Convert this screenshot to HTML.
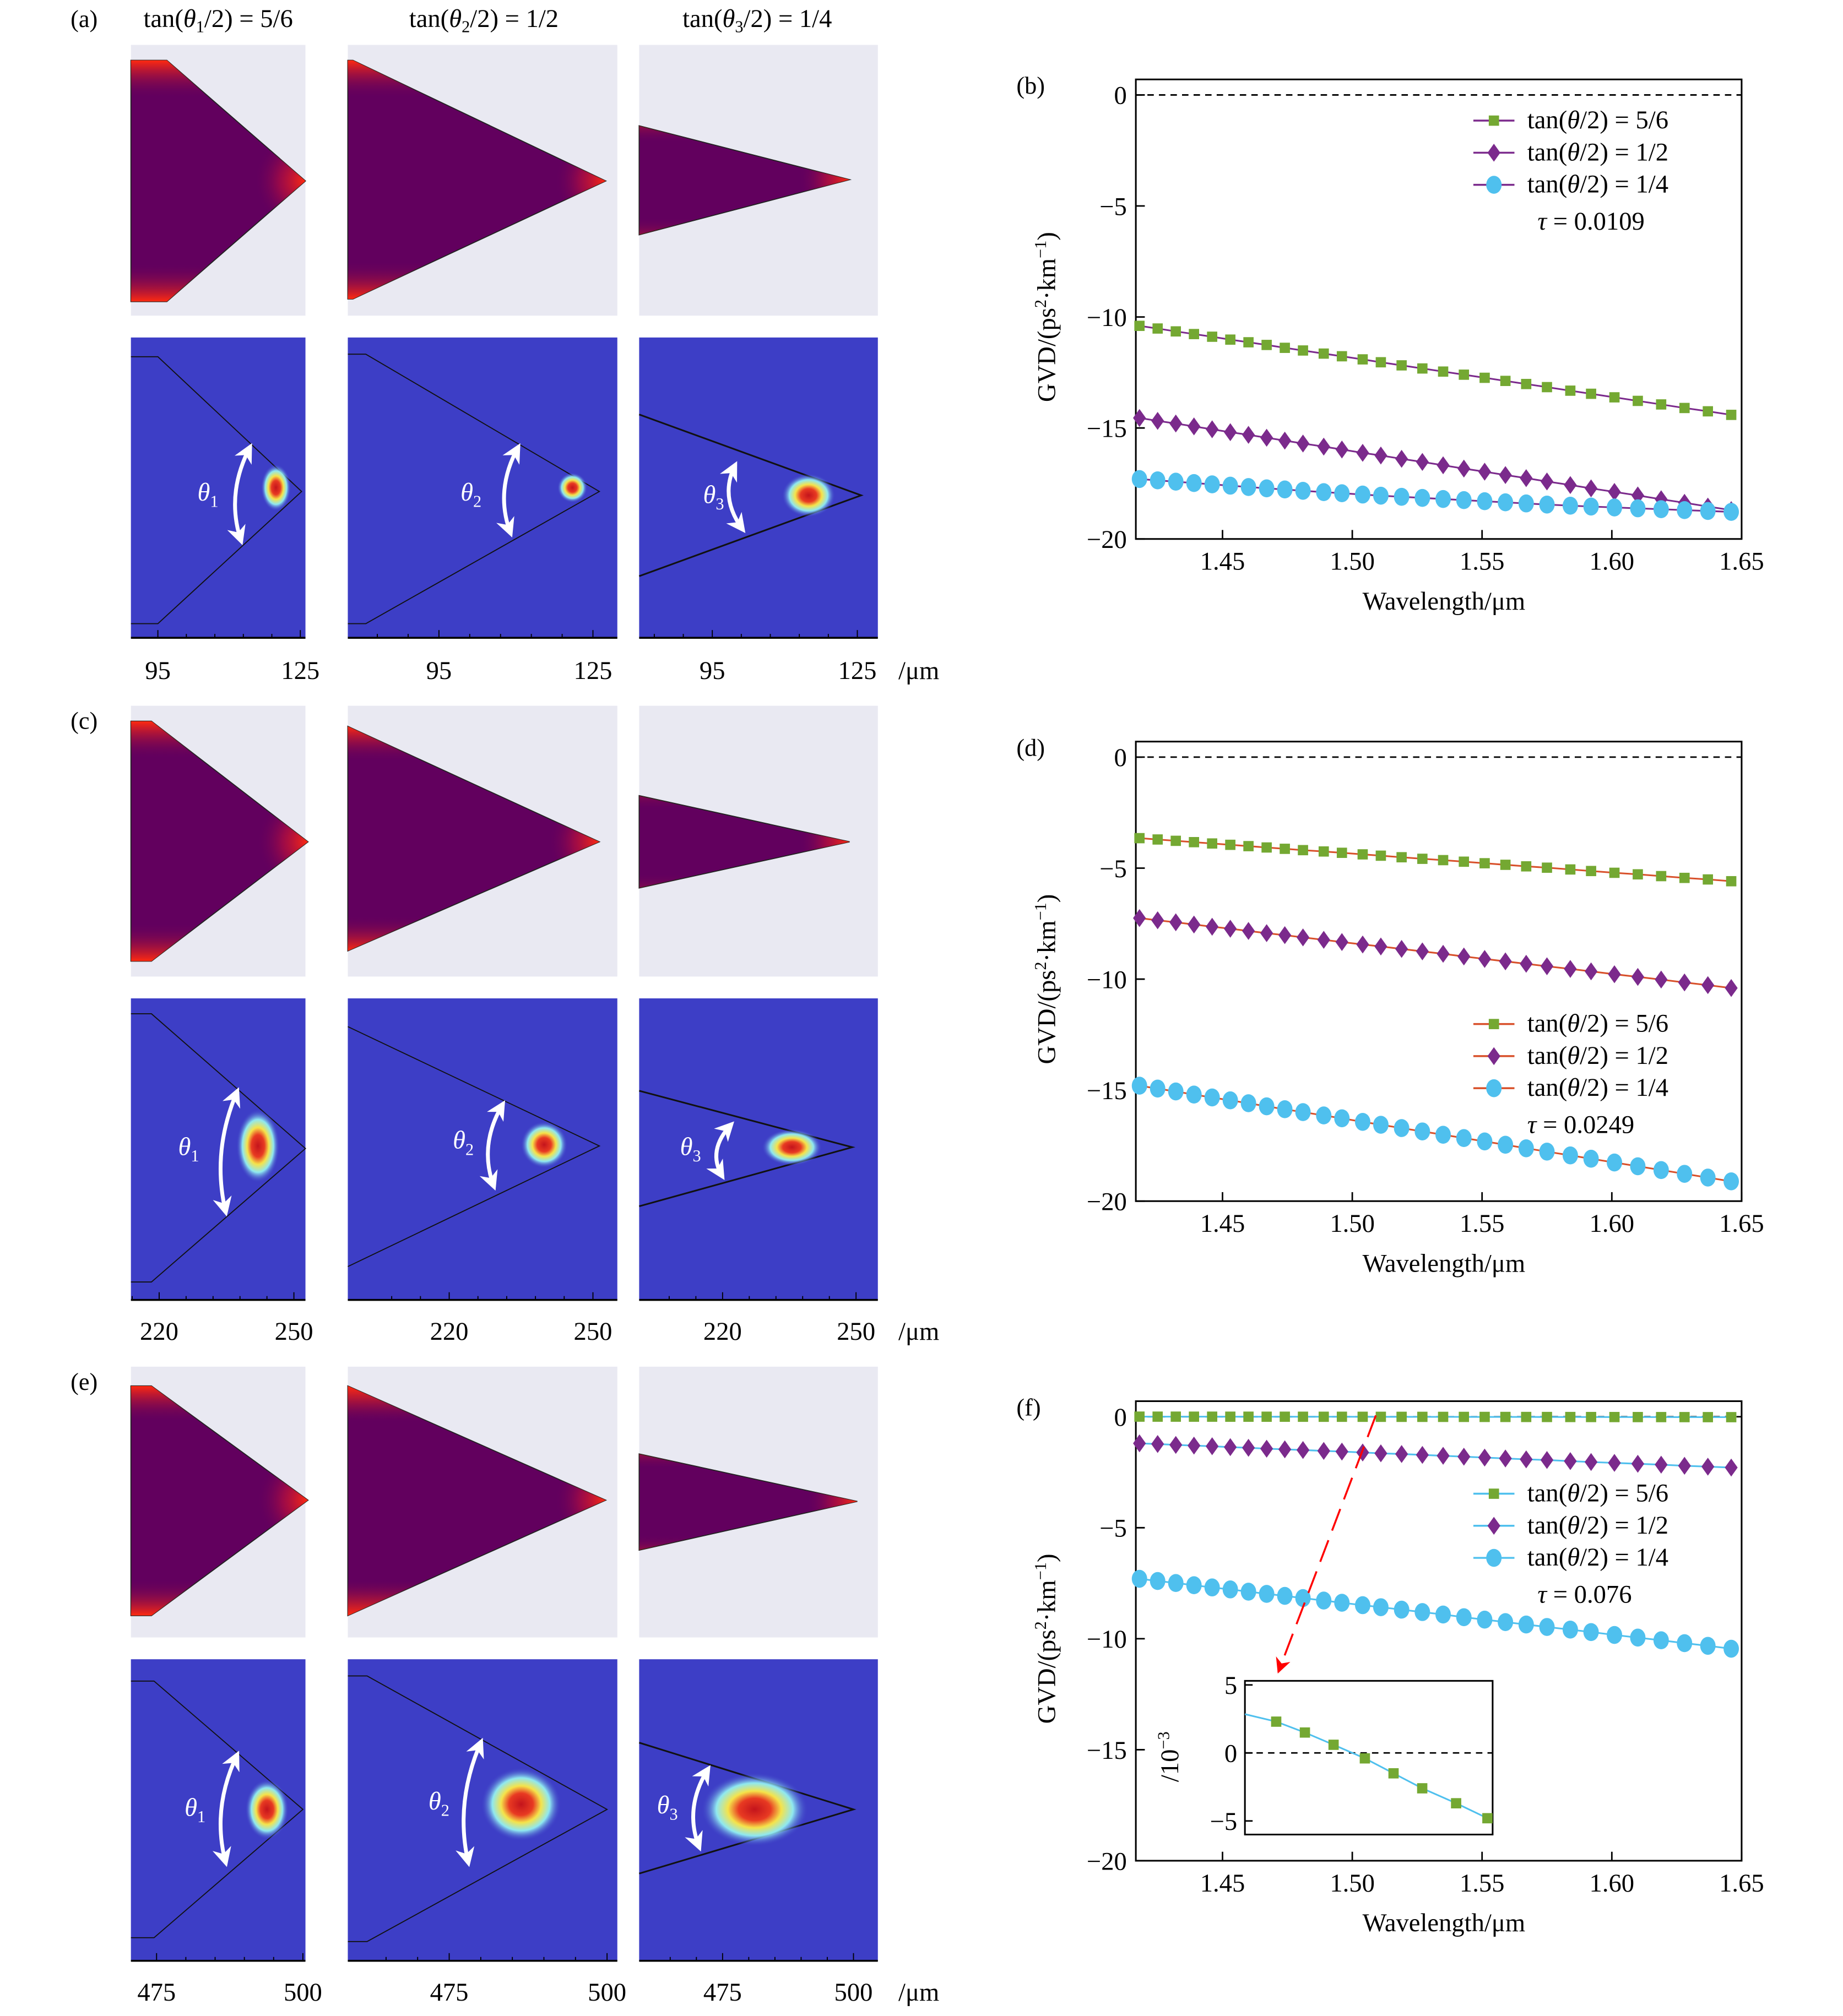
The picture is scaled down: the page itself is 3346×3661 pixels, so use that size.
<!DOCTYPE html>
<html><head><meta charset="utf-8"><style>
html,body{margin:0;padding:0;background:#fff}
svg{display:block}
text{font-family:"Liberation Serif",serif;fill:#000}
</style></head><body>
<svg id="fig" xmlns="http://www.w3.org/2000/svg" width="3346" height="3661" viewBox="0 0 1436 1571" preserveAspectRatio="none">
<defs>
<radialGradient id="spot"><stop offset="0" stop-color="#c4141c"/><stop offset="0.3" stop-color="#e83a22"/><stop offset="0.5" stop-color="#f5e34a"/><stop offset="0.72" stop-color="#8fe8f0"/><stop offset="1" stop-color="#3d3ec6" stop-opacity="0"/></radialGradient>
<radialGradient id="apex"><stop offset="0" stop-color="#ff2a10"/><stop offset="0.5" stop-color="#c0103a" stop-opacity="0.6"/><stop offset="1" stop-color="#62005e" stop-opacity="0"/></radialGradient>
<linearGradient id="vert" x1="0" y1="0" x2="0" y2="1"><stop offset="0" stop-color="#ff2a10"/><stop offset="0.16" stop-color="#62005e" stop-opacity="0"/><stop offset="0.84" stop-color="#62005e" stop-opacity="0"/><stop offset="1" stop-color="#ff2a10"/></linearGradient>
<marker id="ah" viewBox="0 0 10 10" refX="8" refY="5" markerWidth="5" markerHeight="5" orient="auto-start-reverse"><path d="M0,0 L10,5 L0,10 L3,5 z" fill="#fff"/></marker>
<marker id="rah" viewBox="0 0 10 10" refX="9" refY="5" markerWidth="8" markerHeight="8" orient="auto"><path d="M0,0 L10,5 L0,10 L3,5 z" fill="#f00"/></marker>
</defs>
<g id="left"></g>
<g id="charts"></g>
</svg>
<script>
const NS="http://www.w3.org/2000/svg";
function el(t,a,p){const e=document.createElementNS(NS,t);for(const k in a)e.setAttribute(k,a[k]);p.appendChild(e);return e;}
function tx(s,x,y,a,p){const e=el('text',Object.assign({x:x,y:y},a),p);e.textContent=s;return e;}

/* ---------- left panels ---------- */
const L=document.getElementById('left');
tx('(a)',55,21,{'font-size':19},L);
tx('(c)',55,568,{'font-size':19},L);
tx('(e)',55,1083,{'font-size':19},L);
const titles=[['tan(θ','1','/2) = 5/6',170],['tan(θ','2','/2) = 1/2',377],['tan(θ','3','/2) = 1/4',590]];
titles.forEach((t,i)=>{const e=el('text',{x:t[3],y:21,'font-size':20,'text-anchor':'middle'},L);

e.innerHTML=t[0].replace('θ','<tspan font-style="italic">θ</tspan>')+'<tspan font-size="13" dy="4">'+t[1]+'</tspan><tspan dy="-4">'+t[2]+'</tspan>';});
const cols=[[102,238],[271,481],[498,684]];
const rows=[
 {top:[35,246],bot:[263,497],lab:522,ticks:[['95',123],['125',234],['95',342],['125',462],['95',555],['125',668]],
  tp:[[[102,47],[130,47],[238,141],[130,235],[102,235]],[[271,47],[275,47],[472,141],[275,233],[271,233]],[[498,98],[662,140],[498,183]]],
  bp:[[[102,278],[123,278],[235,383],[123,486],[102,486]],[[271,276],[285,276],[467,383],[285,486],[271,486]],[[498,323],[671,386],[498,449]]],
  sp:[[215,380,9,14],[446,380,9,9],[630,386,16,13]],
  ar:[[195,348,188,422,162,390,'1'],[404,348,398,416,367,390,'2'],[573,362,579,413,556,392,'3']],vert:[1,1,0.3]},
 {top:[550,761],bot:[778,1013],lab:1037,ticks:[['220',124],['250',229],['220',350],['250',462],['220',563],['250',667]],
  tp:[[[102,562],[118,562],[240,656],[118,749],[102,749]],[[271,566],[467,656],[271,741]],[[498,620],[662,656],[498,692]]],
  bp:[[[102,790],[118,790],[238,895],[118,999],[102,999]],[[271,800],[467,893],[271,987]],[[498,850],[664,894],[498,940]]],
  sp:[[201,893,13,22],[424,892,14,14],[617,894,18,11]],
  ar:[[185,850,176,945,147,900,'1'],[392,860,385,925,361,895,'2'],[570,876,563,917,538,900,'3']],vert:[1,1,0.2]},
 {top:[1065,1276],bot:[1293,1528],lab:1552,ticks:[['475',122],['500',236],['475',350],['500',473],['475',563],['500',665]],
  tp:[[[102,1080],[118,1080],[240,1169],[118,1259],[102,1259]],[[271,1080],[472,1169],[271,1259]],[[498,1133],[668,1170],[498,1208]]],
  bp:[[[102,1310],[120,1310],[236,1410],[120,1510],[102,1510]],[[271,1306],[286,1306],[473,1410],[286,1513],[271,1513]],[[498,1358],[665,1410],[498,1460]]],
  sp:[[208,1410,13,18],[406,1406,24,22],[588,1410,32,22]],
  ar:[[185,1367,176,1452,152,1415,'1'],[375,1357,365,1452,342,1410,'2'],[552,1378,545,1440,520,1413,'3']],vert:[1,1.6,0.3]}
];
rows.forEach((r,ri)=>{
 cols.forEach((c,ci)=>{
  const w=c[1]-c[0];
  const bg=el('rect',{x:c[0],y:r.top[0],width:w,height:r.top[1]-r.top[0],fill:'#e9e9f2'},L);
  
  const pts=r.tp[ci].map(p=>p.join(',')).join(' ');
  const cid='clip'+ri+ci;const cp=el('clipPath',{id:cid},L);el('polygon',{points:pts},cp);
  const sh=el('polygon',{points:pts,fill:'#62005e',stroke:'#222','stroke-width':0.8},L);
  
  const ys=r.tp[ci].map(p=>p[1]),ymin=Math.min(...ys),ymax=Math.max(...ys);
  const g=el('g',{'clip-path':'url(#'+cid+')'},L);
  const apx=r.tp[ci].reduce((a,b)=>b[0]>a[0]?b:a);
  el('ellipse',{cx:apx[0],cy:apx[1],rx:40,ry:40,fill:'url(#apex)'},g);
  el('rect',{x:c[0],y:ymin,width:w,height:ymax-ymin,fill:'url(#vert)',opacity:r.vert[ci]>1?1:r.vert[ci]},g);
  if(r.vert[ci]>1){el('rect',{x:c[0],y:ymin,width:w,height:ymax-ymin,fill:'url(#vert)',opacity:0.6},g);}
  const bb=el('rect',{x:c[0],y:r.bot[0],width:w,height:r.bot[1]-r.bot[0],fill:'#3d3ec6'},L);
  
  el('polyline',{points:r.bp[ci].map(p=>p.join(',')).join(' '),fill:'none',stroke:'#111','stroke-width':ci==2?1.3:0.8},L);
  const s=r.sp[ci];
  const sp=el('ellipse',{cx:s[0],cy:s[1],rx:s[2]*1.3,ry:s[3]*1.3,fill:'url(#spot)'},L);
  
  const a=r.ar[ci];const mx=(a[0]+a[2])/2-16,my=(a[1]+a[3])/2;
  const arw=el('path',{d:`M${a[0]},${a[1]} Q${mx},${my} ${a[2]},${a[3]}`,fill:'none',stroke:'#fff','stroke-width':3,'marker-start':'url(#ah)','marker-end':'url(#ah)'},L);
  
  const th=el('text',{x:a[4],y:a[5],'font-size':20,'text-anchor':'middle',style:'fill:#fff'},L);
  th.innerHTML='<tspan font-style="italic">θ</tspan><tspan font-size="13" dy="5">'+a[6]+'</tspan>';
  const ax=el('line',{x1:c[0],y1:r.bot[1],x2:c[1],y2:r.bot[1],stroke:'#000','stroke-width':1.5},L);
  
  const t0=r.ticks[ci*2][1],t1=r.ticks[ci*2+1][1],step=(t1-t0)/5;
  for(let k=-2;k<=6;k++){const xx=t0+k*step;if(xx<c[0]||xx>c[1])continue;
   el('line',{x1:xx,y1:r.bot[1],x2:xx,y2:r.bot[1]-(k%5==0?6:3),stroke:'#000','stroke-width':0.8},L);}
 });
 r.ticks.forEach(t=>{const e=tx(t[0],t[1],r.lab+7,{'font-size':20,'text-anchor':'middle'},L);});
 tx('/μm',700,r.lab+7,{'font-size':20},L);
});

/* ---------- charts data ---------- */
const wavelengths=[1.418,1.425,1.432,1.439,1.446,1.453,1.460,1.467,1.474,1.481,1.489,1.496,1.504,1.511,1.519,1.527,1.535,1.543,1.551,1.559,1.567,1.575,1.584,1.592,1.601,1.610,1.619,1.628,1.637,1.646];
const bGreen=[-10.40,-10.52,-10.65,-10.77,-10.89,-11.02,-11.14,-11.26,-11.39,-11.51,-11.65,-11.77,-11.91,-12.04,-12.18,-12.32,-12.46,-12.60,-12.74,-12.88,-13.02,-13.16,-13.32,-13.46,-13.62,-13.78,-13.94,-14.10,-14.25,-14.41];
const bPurple=[-14.55,-14.68,-14.80,-14.93,-15.06,-15.19,-15.31,-15.44,-15.57,-15.70,-15.84,-15.97,-16.12,-16.24,-16.39,-16.53,-16.68,-16.83,-16.97,-17.12,-17.26,-17.41,-17.57,-17.72,-17.88,-18.04,-18.21,-18.37,-18.54,-18.70];
const bCyan=[-17.30,-17.36,-17.42,-17.48,-17.54,-17.60,-17.66,-17.72,-17.77,-17.83,-17.89,-17.94,-18.00,-18.05,-18.10,-18.15,-18.20,-18.25,-18.30,-18.35,-18.40,-18.45,-18.50,-18.54,-18.58,-18.62,-18.66,-18.70,-18.74,-18.78];
const dGreen=[-3.65,-3.71,-3.77,-3.83,-3.89,-3.95,-4.01,-4.07,-4.13,-4.19,-4.25,-4.31,-4.38,-4.44,-4.51,-4.58,-4.64,-4.71,-4.78,-4.85,-4.92,-4.98,-5.06,-5.13,-5.21,-5.28,-5.36,-5.44,-5.51,-5.59];
const dPurple=[-7.25,-7.35,-7.44,-7.54,-7.64,-7.73,-7.83,-7.93,-8.02,-8.12,-8.23,-8.33,-8.44,-8.53,-8.64,-8.75,-8.86,-8.98,-9.09,-9.20,-9.31,-9.42,-9.54,-9.65,-9.78,-9.90,-10.02,-10.15,-10.27,-10.40];
const dCyan=[-14.80,-14.93,-15.06,-15.20,-15.33,-15.46,-15.59,-15.73,-15.86,-15.99,-16.14,-16.27,-16.43,-16.56,-16.71,-16.86,-17.01,-17.16,-17.31,-17.46,-17.62,-17.77,-17.94,-18.09,-18.26,-18.43,-18.60,-18.77,-18.94,-19.11];
const fGreen=[0.004,0.003,0.003,0.002,0.002,0.001,0.001,0.000,0.000,-0.001,-0.002,-0.002,-0.003,-0.004,-0.005,-0.006,-0.007,-0.008,-0.009,-0.010,-0.011,-0.012,-0.013,-0.014,-0.015,-0.016,-0.017,-0.018,-0.019,-0.020];
const fPurple=[-1.20,-1.23,-1.27,-1.30,-1.33,-1.37,-1.40,-1.44,-1.47,-1.50,-1.54,-1.57,-1.61,-1.65,-1.68,-1.72,-1.76,-1.80,-1.84,-1.88,-1.92,-1.95,-2.00,-2.04,-2.08,-2.12,-2.16,-2.21,-2.25,-2.29];
const fCyan=[-7.30,-7.40,-7.49,-7.59,-7.69,-7.78,-7.88,-7.98,-8.07,-8.17,-8.28,-8.38,-8.49,-8.58,-8.69,-8.80,-8.91,-9.03,-9.14,-9.25,-9.36,-9.47,-9.59,-9.70,-9.83,-9.95,-10.07,-10.20,-10.32,-10.45];
const insetX=[1.472,1.483,1.494,1.506,1.517,1.528,1.541,1.553];
const insetY=[2.3,1.5,0.6,-0.4,-1.5,-2.6,-3.7,-4.8];
const xTicks=[1.45,1.50,1.55,1.60,1.65];
const xTickLabels=['1.45','1.50','1.55','1.60','1.65'];
const yTicks=[0,-5,-10,-15,-20];
const yTickLabels=['0','−5','−10','−15','−20'];
const legendLabels=['tan(θ/2) = 5/6','tan(θ/2) = 1/2','tan(θ/2) = 1/4'];

const C=document.getElementById('charts');
const GREEN='#74a832',PURPLE='#7b2a8c',CYAN='#4fc0ee';
const charts=[
 {name:'b',y0:74,series:[bGreen,bPurple,bCyan],line:[PURPLE,PURPLE,PURPLE],tau:'0.0109',leg:[94,119,144],tauY:179,tauX:1198,legLine:PURPLE},
 {name:'d',y0:590,series:[dGreen,dPurple,dCyan],line:['#d8502a','#d8502a','#d8502a'],tau:'0.0249',leg:[798,823,848],tauY:883,tauX:1190,legLine:'#d8502a'},
 {name:'f',y0:1104,series:[fGreen,fPurple,fCyan],line:[CYAN,CYAN,CYAN],tau:'0.076',leg:[1164,1189,1214],tauY:1249,tauX:1198,legLine:CYAN}
];
const X0=885,X1=1357,XMIN=1.4166,XMAX=1.65;
function marker(kind,x,y,p){
 let m;
 if(kind==0)m=el('rect',{x:x-4,y:y-4,width:8,height:8,fill:GREEN},p);
 else if(kind==1)m=el('polygon',{points:`${x},${y-7} ${x+5},${y} ${x},${y+7} ${x-5},${y}`,fill:PURPLE},p);
 else m=el('ellipse',{cx:x,cy:y,rx:6,ry:7,fill:CYAN},p);
 return m;
}
charts.forEach(ch=>{
 const g=el('g',{},C);
 
 
 const yPx=v=>ch.y0-v*17.3;
 const xPx=v=>X0+(v-XMIN)/(XMAX-XMIN)*(X1-X0);
 const top=yPx(0.7),bot=yPx(-20);
 const fr=el('rect',{x:X0,y:top,width:X1-X0,height:bot-top,fill:'none',stroke:'#000','stroke-width':1.3},g);
 
 const zl=el('line',{x1:X0,y1:yPx(0),x2:X1,y2:yPx(0),stroke:'#000','stroke-width':1.2,'stroke-dasharray':'5,4'},g);
 
 xTicks.forEach((t,i)=>{const x=xPx(t);el('line',{x1:x,y1:bot,x2:x,y2:bot-7,stroke:'#000','stroke-width':1.2},g);
  const l=tx(xTickLabels[i],x,bot+24,{'font-size':20,'text-anchor':'middle'},g);});
 yTicks.forEach((t,i)=>{const y=yPx(t);el('line',{x1:X0,y1:y,x2:X0+7,y2:y,stroke:'#000','stroke-width':1.2},g);
  const l=tx(yTickLabels[i],878,y+7,{'font-size':20,'text-anchor':'end'},g);});
 const xl=tx('Wavelength/μm',1125,bot+55,{'font-size':20,'text-anchor':'middle'},g);
 const yl=el('text',{x:0,y:0,'font-size':20,'text-anchor':'middle',transform:`translate(822,${yPx(-10)}) rotate(-90)`},g);
 
 yl.innerHTML='GVD/(ps<tspan font-size="13" dy="-7">2</tspan><tspan dy="7">·km</tspan><tspan font-size="13" dy="-7">−1</tspan><tspan dy="7">)</tspan>';
 const pl=tx('('+ch.name+')',792,ch.y0-1,{'font-size':19},g);
 ch.series.forEach((s,si)=>{
  const d=s.map((v,i)=>(i?'L':'M')+xPx(wavelengths[i]).toFixed(2)+','+yPx(v).toFixed(2)).join(' ');
  const ln=el('path',{d:d,fill:'none',stroke:ch.line[si],'stroke-width':1.3},g);
  
  s.forEach((v,i)=>{const m=marker(si,xPx(wavelengths[i]),yPx(v),g);
   
   });
 });
 legendLabels.forEach((lab,i)=>{const y=ch.leg[i];
  el('line',{x1:1148,y1:y,x2:1180,y2:y,stroke:ch.legLine,'stroke-width':1.5},g);
  const m=marker(i,1164,y,g);
  const t=el('text',{x:1190,y:y+6,'font-size':20},g);
  t.innerHTML=lab.replace('θ','<tspan font-style="italic">θ</tspan>');});
 const ta=el('text',{x:ch.tauX,y:ch.tauY,'font-size':20},g);
 ta.innerHTML='<tspan font-style="italic">τ</tspan> = '+ch.tau;
 if(ch.name=='f'){
  const ig=el('g',{},g);
  const IX0=970,IX1=1163,IXMIN=1.46,IXMAX=1.555;
  const ixp=v=>IX0+(v-IXMIN)/(IXMAX-IXMIN)*(IX1-IX0);
  const iyp=v=>1366-v*10.6;
  el('rect',{x:IX0,y:iyp(5.3),width:IX1-IX0,height:iyp(-6)-iyp(5.3),fill:'#fff',stroke:'#000','stroke-width':1.3},ig);
  el('line',{x1:IX0,y1:iyp(0),x2:IX1,y2:iyp(0),stroke:'#000','stroke-width':1.2,'stroke-dasharray':'5,4'},ig);
  [5,0,-5].forEach(t=>{el('line',{x1:IX0,y1:iyp(t),x2:IX0+6,y2:iyp(t),stroke:'#000','stroke-width':1.2},ig);
   tx(t<0?'−5':String(t),IX0-6,iyp(t)+7,{'font-size':20,'text-anchor':'end'},ig);});
  const it=el('text',{x:0,y:0,'font-size':20,'text-anchor':'middle',transform:`translate(918,${iyp(0)+3}) rotate(-90)`},ig);
  
  it.innerHTML='/10<tspan font-size="13" dy="-7">−3</tspan>';
  const d=insetY.map((v,i)=>(i?'L':'M')+ixp(insetX[i]).toFixed(2)+','+iyp(v).toFixed(2)).join(' ');
  el('path',{d:'M'+IX0+','+iyp(2.85)+' '+d.replace('M','L'),fill:'none',stroke:CYAN,'stroke-width':1.3},ig);
  insetY.forEach((v,i)=>{const m=marker(0,ixp(insetX[i]),iyp(v),ig);});
  const ar=el('line',{x1:1072,y1:1103,x2:996,y2:1303,stroke:'#f00','stroke-width':1.5,'stroke-dasharray':'18,8','marker-end':'url(#rah)'},g);
  
 }
});
</script>
</body></html>
